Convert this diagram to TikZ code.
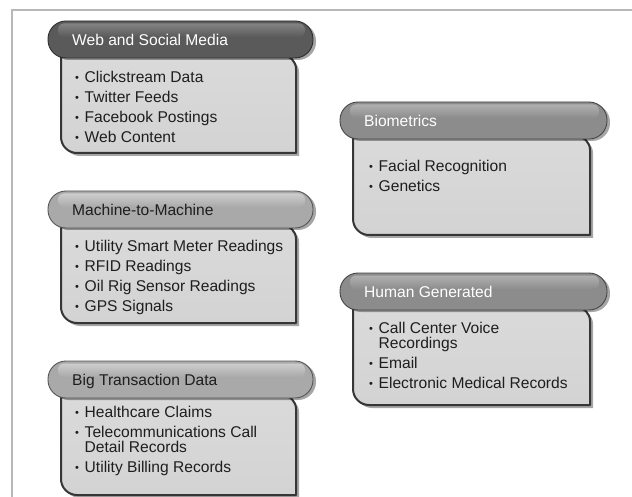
\documentclass[tikz,border=0pt]{standalone}
\usepackage{fontspec}
\setmainfont{Liberation Sans}
\usetikzlibrary{shadows}
\definecolor{framecol}{HTML}{B8B8B8}
\definecolor{bodyfill}{HTML}{D3D3D3}
\definecolor{bodytop}{HTML}{DADADA}
\definecolor{bodyline}{HTML}{363636}
\definecolor{hAbase}{HTML}{5A5A5A}
\definecolor{hAband}{HTML}{838383}
\definecolor{hBbase}{HTML}{8C8C8C}
\definecolor{hBband}{HTML}{B0B0B0}
\definecolor{hCbase}{HTML}{A9A9A9}
\definecolor{hCband}{HTML}{CDCDCD}
\definecolor{txt}{HTML}{1E1E1E}
\newcommand\bl{\makebox[9.5pt][l]{\fontsize{11}{11}\selectfont\raisebox{0.6pt}{•}}}
\newcommand\blcont{\makebox[9.5pt][l]{}}
\tikzset{
  bodyshape/.style={top color=bodytop, bottom color=bodyfill, draw=bodyline, line width=2pt, line join=round,
    drop shadow={shadow xshift=3pt, shadow yshift=-3pt, opacity=0.35, fill=black}},
  pillshape/.style={fill=#1base, draw=#1base!50!black, line width=0.9pt,
    drop shadow={shadow xshift=3pt, shadow yshift=-2pt, opacity=0.35, fill=black}},
  bandshape/.style={top color=#1band, bottom color=#1base, draw=none},
  headtext/.style={inner sep=0pt, font=\fontsize{15.6}{16}\selectfont},
  listtext/.style={inner sep=0pt, anchor=north west, align=left, text=txt,
    font=\fontsize{15.6}{15}\selectfont},
  framestyle/.style={draw=framecol, line width=1.3pt}
}
% #1 name, #2 pill left, #3 pill right, #4 pill top, #5 body bottom, #6 colour key, #7 header text colour, #8 header
\newcommand\infobox[8]{%
  \path[bodyshape] ({#2+13},{#4+34}) -- ({#3-17-14},{#4+34})
     arc[start angle=270, end angle=360, radius=14] -- ({#3-17},{#5})
     -- ({#2+13+16},{#5}) arc[start angle=90, end angle=180, radius=16] -- cycle;
  \path[pillshape=#6, rounded corners=18pt] (#2,#4) rectangle (#3,{#4+37});
  \path[bandshape=#6, rounded corners=6pt] ({#2+10},{#4+2.5}) rectangle ({#3-8},{#4+16});
  \node[headtext, text=#7, anchor=base west] (#1-head) at ({#2+24},{#4+24.5}) {#8};
}
\begin{document}
\begin{tikzpicture}[x=1pt, y=-1pt]
  \useasboundingbox[fill=white] (0,0) rectangle (632,497);
  \draw[framestyle] (12,497) -- (12,10) -- (632,10);

  \infobox{web}{48}{313}{21}{153}{hA}{white}{Web and Social Media}
  \node[listtext] (web-list) at (75,71)
    {\bl Clickstream Data\\[5pt] \bl Twitter Feeds\\[5pt] \bl Facebook Postings\\[5pt] \bl Web Content};

  \infobox{bio}{340}{607}{102}{235}{hB}{white}{Biometrics}
  \node[listtext] (bio-list) at (369,160)
    {\bl Facial Recognition\\[5pt] \bl Genetics};

  \infobox{m2m}{48}{313}{191}{323}{hC}{txt}{Machine-to-Machine}
  \node[listtext] (m2m-list) at (75,240)
    {\bl Utility Smart Meter Readings\\[5pt] \bl RFID Readings\\[5pt] \bl Oil Rig Sensor Readings\\[5pt] \bl GPS Signals};

  \infobox{hum}{340}{607}{273}{405}{hB}{white}{Human Generated}
  \node[listtext] (hum-list) at (369,322)
    {\bl Call Center Voice\\ \blcont Recordings\\[5pt] \bl Email\\[5pt] \bl Electronic Medical Records};

  \infobox{btd}{48}{313}{361}{495}{hC}{txt}{Big Transaction Data}
  \node[listtext] (btd-list) at (75,406)
    {\bl Healthcare Claims\\[5pt] \bl Telecommunications Call\\ \blcont Detail Records\\[5pt] \bl Utility Billing Records};
\end{tikzpicture}
\end{document}
